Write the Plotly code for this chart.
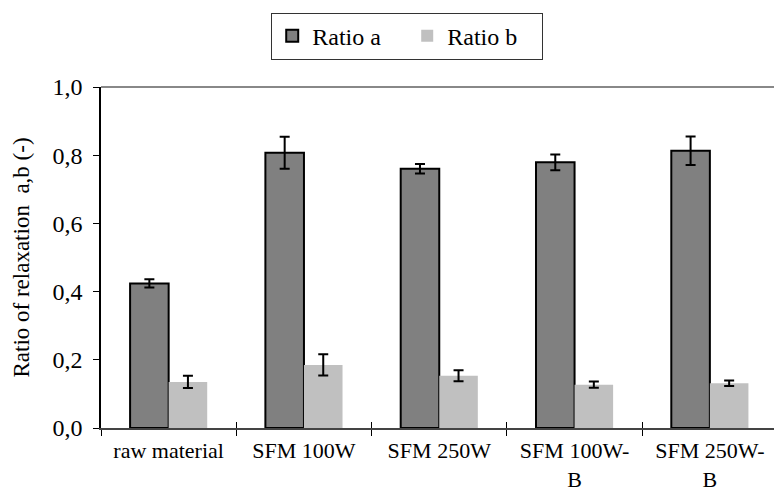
import plotly.graph_objects as go

categories = ["raw material", "SFM 100W", "SFM 250W", "SFM 100W-<br>B", "SFM 250W-<br>B"]
ratio_a = [0.424, 0.807, 0.760, 0.779, 0.813]
ratio_a_err = [0.012, 0.047, 0.014, 0.023, 0.042]
ratio_b = [0.135, 0.185, 0.153, 0.127, 0.131]
ratio_b_err = [0.018, 0.031, 0.016, 0.009, 0.008]
y_ticks = [0.0, 0.2, 0.4, 0.6, 0.8, 1.0]
y_tick_text = ["0,0", "0,2", "0,4", "0,6", "0,8", "1,0"]

FONT = "Liberation Serif, Times New Roman, serif"

fig = go.Figure()
fig.add_trace(go.Bar(
    name="Ratio a", x=categories, y=ratio_a,
    marker=dict(color="#808080", line=dict(color="#000000", width=2)),
    error_y=dict(type="data", array=ratio_a_err, color="#000000", thickness=2, width=5),
))
fig.add_trace(go.Bar(
    name="Ratio b", x=categories, y=ratio_b,
    marker=dict(color="#c0c0c0", line=dict(color="#c0c0c0", width=0)),
    error_y=dict(type="data", array=ratio_b_err, color="#000000", thickness=2, width=5),
))
# invisible helper trace so the overlay axis knows the categories (for inside tick marks)
fig.add_trace(go.Scatter(
    x=categories, y=[0] * len(categories), xaxis="x2", mode="markers",
    marker=dict(opacity=0), showlegend=False, hoverinfo="skip",
))

fig.update_layout(
    width=774, height=492,
    margin=dict(l=101, r=0, t=87, b=64, autoexpand=False),
    paper_bgcolor="white", plot_bgcolor="white",
    barmode="group", bargap=0.43, bargroupgap=0,
    font=dict(family=FONT, size=22, color="#000000"),
    showlegend=True,
    legend=dict(
        orientation="h", x=0.455, xanchor="center", y=1.218, yanchor="top",
        bordercolor="#333333", borderwidth=1, bgcolor="white",
        font=dict(family=FONT, size=24), itemwidth=30,
        entrywidth=90, entrywidthmode="pixels",
    ),
    xaxis=dict(
        type="category", range=[-0.5, 4.474], tickson="boundaries",
        ticks="outside", ticklen=6, tickwidth=1, tickcolor="#000000",
        showline=True, linecolor="#444444", linewidth=2,
        showgrid=False, zeroline=False,
        tickfont=dict(family=FONT, size=22),
        ticklabelstandoff=2,
        automargin=False,
    ),
    xaxis2=dict(
        type="category", overlaying="x", side="bottom", range=[-0.5, 4.474],
        tickson="boundaries", ticks="inside", ticklen=6, tickwidth=1, tickcolor="#000000",
        showticklabels=False, showline=False, showgrid=False, zeroline=False,
        automargin=False,
    ),
    yaxis=dict(
        range=[0, 1.0], tickvals=y_ticks, ticktext=y_tick_text,
        ticks="outside", ticklen=6, tickwidth=1, tickcolor="#000000",
        showline=True, linecolor="#000000", linewidth=1.5,
        showgrid=False, zeroline=False,
        tickfont=dict(family=FONT, size=24),
        ticklabelstandoff=6,
        title=dict(text="Ratio of relaxation  a,b (-)", font=dict(family=FONT, size=23), standoff=16),
        automargin=False,
    ),
    shapes=[dict(type="line", xref="paper", yref="paper", x0=0, x1=1, y0=1, y1=1,
                 line=dict(color="#888888", width=2))],
)

fig.write_html("out.html")
